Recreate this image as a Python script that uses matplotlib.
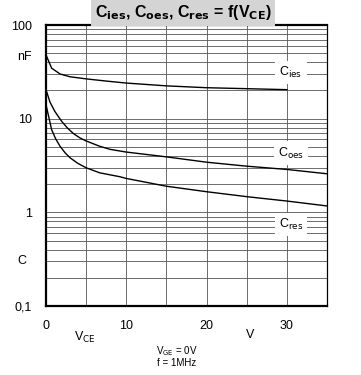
import numpy as np
import matplotlib.pyplot as plt
from matplotlib.ticker import LogLocator, NullFormatter

plt.rcParams['font.family'] = ['Liberation Sans', 'DejaVu Sans']

# kapazitaeten ueber V_CE
vce_ies = [0, 0.7, 1.75, 3, 5, 7.5, 10, 15, 20, 25, 30]
c_ies = [48, 34.6, 30, 28, 26.6, 25.2, 24, 22.4, 21.4, 20.9, 20.4]

vce_oes = [0, 0.5, 1.1, 1.95, 2.7, 3.4, 4.2, 5, 6.7, 8, 10, 15, 20, 25, 30, 35]
c_oes = [20.4, 15, 11.96, 9.36, 7.9, 6.95, 6.25, 5.78, 5.07, 4.7, 4.4, 3.91, 3.43, 3.11, 2.87, 2.58]

vce_res = [0, 0.7, 1.2, 1.75, 2.4, 3, 4, 5, 6.7, 9.2, 10, 15, 20, 25, 30, 35]
c_res = [14.1, 7.64, 6.1, 5.07, 4.3, 3.82, 3.32, 2.99, 2.64, 2.40, 2.3, 1.9, 1.66, 1.47, 1.32, 1.17]

ytick_vals = [0.1, 1, 10, 100]
ytick_txt = ['0,1', '1', '10', '100']
xtick_vals = [0, 10, 20, 30]

fig = plt.figure(figsize=(3.61, 3.75), dpi=100)
ax = fig.add_axes([46/361, 1-306/375, 281/361, 281/375])

ax.plot(vce_ies, c_ies, color='black', lw=1.0)
ax.plot(vce_oes, c_oes, color='black', lw=1.0)
ax.plot(vce_res, c_res, color='black', lw=1.0)

ax.set_yscale('log')
ax.set_ylim(0.1, 100)
ax.set_xlim(0, 35)
ax.set_yticks(ytick_vals)
ax.set_yticklabels(ytick_txt)
ax.yaxis.set_minor_locator(LogLocator(base=10, subs=np.arange(2, 10)))
ax.yaxis.set_minor_formatter(NullFormatter())
ax.set_xticks(np.arange(0, 36, 5), minor=True)
ax.set_xticks(xtick_vals)
ax.tick_params(which='both', length=0, labelsize=9)
ax.tick_params(axis='x', pad=10)
ax.tick_params(axis='y', pad=10)
ax.grid(True, which='both', axis='y', color='#555555', lw=0.6)
ax.grid(True, which='both', axis='x', color='#555555', lw=0.6)
ax.set_axisbelow(True)
for s in ['left', 'bottom', 'top']:
    ax.spines[s].set_linewidth(1.6)
ax.spines['right'].set_linewidth(0.9)

lbl = dict(fontsize=9, ha='center', va='center',
           bbox=dict(facecolor='white', edgecolor='none', pad=3))
ax.text(30.5, 31, r'C$_{\rm ies}$', **lbl)
ax.text(30.5, 4.3, r'C$_{\rm oes}$', **lbl)
ax.text(30.5, 0.74, r'C$_{\rm res}$', **lbl)

fig.text(24/361, 1-57/375, 'nF', fontsize=9, ha='center', va='center')
fig.text(22/361, 1-261/375, 'C', fontsize=9, ha='center', va='center')
fig.text(85/361, 1-337/375, r'V$_{\rm CE}$', fontsize=9, ha='center', va='center')
fig.text(250/361, 1-335/375, 'V', fontsize=9, ha='center', va='center')
fig.text(177/361, 1-351/375, r'V$_{\rm GE}$ = 0V', fontsize=7, ha='center', va='center')
fig.text(177/361, 1-363/375, 'f = 1MHz', fontsize=7, ha='center', va='center')

fig.text(183/361, 1-12/375, r'C$_{\bf ies}$, C$_{\bf oes}$, C$_{\bf res}$ = f(V$_{\bf CE}$)',
         fontsize=11.5, fontweight='bold', ha='center', va='center',
         bbox=dict(facecolor='#d4d4d4', edgecolor='none', pad=3))

plt.savefig('out.png', dpi=100)
